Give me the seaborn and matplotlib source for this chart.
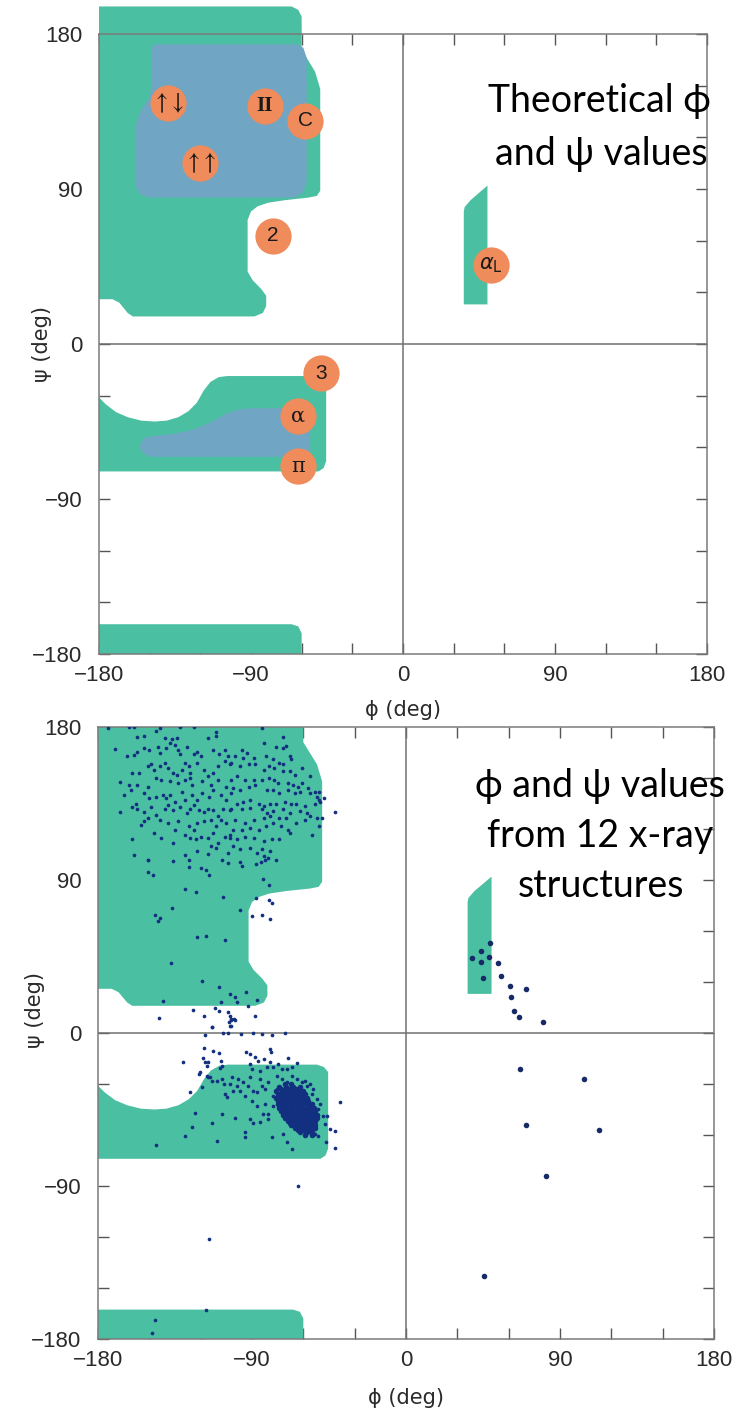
import numpy as np
import pandas as pd
import matplotlib
matplotlib.use("Agg")
import matplotlib.pyplot as plt
import seaborn as sns

# ---------------- allowed regions (phi, psi in degrees) ----------------
upper_phi = [-180, -66, -62, -60, -60, -52, -49, -49, -51, -56, -70, -80, -86, -90, -92,
             -92, -89, -84, -81, -81, -83, -88, -160, -163, -168, -172, -180]
upper_psi = [196, 196, 194, 190, 171, 158, 148, 89, 86, 85, 83.5, 82, 80, 77, 72,
             42, 37, 32, 28, 22, 18, 16, 16, 18, 24, 26, 26]

alpha_phi = [-180, -176, -170, -163, -155, -147, -140, -133, -127, -122, -118, -114, -109, -104,
             -52, -48, -45.5, -45.5, -47, -50, -180]
alpha_psi = [-31, -35, -39.5, -42.5, -44.5, -45, -44.5, -42.5, -39, -34, -27, -22, -19.2, -18.6,
             -18.6, -20, -23, -68, -72, -74, -74]

strip_phi = [-180, -180, -66, -62, -60, -60]
strip_psi = [-180, -162.7, -162.7, -164, -168, -180]

alphaL_phi = [36, 50, 50, 40, 36.5, 36]
alphaL_psi = [23, 23, 92, 83.5, 79.5, 77]

core_beta_phi = [-148, -63, -59, -57, -57, -59, -64, -150, -155, -158, -158, -155, -150, -149, -149]
core_beta_psi = [174, 174, 172, 166, 94, 88, 85, 85, 86.5, 91, 128, 136, 143, 150, 170]

core_alpha_phi = [-155, -153, -148, -135, -125, -115, -105, -97, -90, -57, -55, -55, -57, -150, -154, -156]
core_alpha_psi = [-57, -54.5, -53.5, -52, -50, -46, -40.5, -38, -37.3, -37.3, -40, -63, -65.5, -65.5, -63, -60]

# ---------------- theoretical conformations ----------------
circle_labels = ["updown", "II", "C", "upup", "2", "3", "α", "π", "αL"]
circle_phi = [-139, -82, -58, -120, -77, -48.5, -62, -62, 52]
circle_psi = [140, 138, 129.5, 105, 63, -17, -42, -71, 46]

# ---------------- observed phi/psi (x-ray structures) ----------------
beta_phi = [-174, -162, -159, -144, -132, -124, -157, -153, -146, -141, -137, -134, -116, -111, -111,
            -170, -163, -159, -157, -153, -150, -145, -144, -140, -138, -135, -133, -132, -128, -124, -122, -120, -113, -109, -106, -104,
            -160, -156, -151, -149, -147, -144, -141, -139, -136, -134, -131, -129, -127, -126, -122, -118, -116, -113, -110, -106, -103,
            -167, -162, -157, -151, -146, -143, -138, -133, -129, -126, -125, -119, -114, -110, -105, -102,
            -165, -161, -158, -153, -150, -146, -142, -140, -138, -135, -131, -129, -125, -122, -119, -115, -113, -108, -105, -102,
            -167, -160, -157, -153, -149, -146, -141, -139, -136, -132, -128, -126, -124, -121, -118, -116, -113, -110, -107, -103,
            -155, -153, -151, -144, -139, -133, -127, -124, -122, -118, -114, -111, -108, -105,
            -160, -147, -143, -135, -129, -126, -123, -120, -116, -113, -110, -106, -103,
            -159, -151, -136, -129, -122, -114, -111, -104, -127, -116]
beta_psi = [179.5, 180, 180, 179.5, 180, 180, 174, 175, 177.5, 173.5, 173, 173.5, 173.5, 174.5, 177,
            167, 163, 163.5, 165.5, 167.5, 166.5, 168.5, 165, 167.5, 170.5, 169.5, 166.5, 164, 168.5, 164, 165.5, 163, 166.5, 164, 166.5, 163,
            153, 153, 157, 158, 155, 157, 159, 156, 153, 152, 155, 159, 157, 153, 159, 155, 151, 153, 157, 160, 158,
            147.5, 146, 146, 145, 150, 149, 148, 147, 149, 150, 146, 148, 146, 149, 145, 149,
            140, 143, 135, 141, 138, 139, 140, 138, 140, 136, 142, 137, 140, 137, 141, 139, 143, 140, 137, 141,
            130, 133, 132, 130, 133, 128.5, 132, 134, 131, 133, 129.5, 132, 134, 131, 130, 132, 131, 127.5, 132, 131,
            122.5, 124.5, 126.5, 125.5, 123.5, 124.5, 121.5, 119.5, 123.5, 124.5, 125.5, 121.5, 125.5, 123.5,
            114, 117.5, 115, 119.5, 116.5, 115, 114, 115.5, 115, 117.5, 112, 115.5, 116.5,
            105, 102, 112, 105, 107, 110, 109, 106, 102, 105.5]

beta2_phi = [-84, -72, -83, -76, -72, -70, -96, -93, -100, -95, -89, -82, -78, -74, -72, -68, -67,
             -102, -97, -92, -88, -83, -80, -77, -72, -68, -65, -61, -56, -51,
             -99, -94, -89, -84, -80, -77, -75, -69, -66, -63, -61, -57, -53,
             -101, -97, -92, -88, -81, -78, -74, -69, -65, -62, -56, -52, -50, -48, -41.5,
             -99, -95, -91, -86, -83, -79.5, -76, -71, -67, -64, -59, -53, -51,
             -102, -96, -91, -84, -81.5, -78, -72, -68, -62, -58, -52, -49,
             -100, -94, -89, -83, -79.5, -74, -70, -64, -59, -56, -51,
             -101, -96, -91, -86, -82, -78, -73, -69,
             -103, -99, -94, -89, -83, -78.5, -74, -68, -55,
             -101, -97, -91, -84, -79.5, -87, -83, -80.5, -76]
beta2_psi = [179.5, 174, 170.5, 168.5, 167.5, 169, 166.5, 165, 163, 162, 162, 163, 161, 159, 158, 163, 161,
             159, 157, 158, 158, 155, 157, 156, 154, 154, 152, 156, 151, 142,
             151, 149, 149, 149, 150, 149, 147, 147, 146, 145, 147, 144, 142,
             144, 143, 145, 146, 143, 143, 141, 143, 141, 142, 141, 139, 136, 138, 130,
             135, 136, 137, 135, 133.5, 134.5, 135, 136, 134.5, 135, 133.5, 134.5, 137,
             131.5, 131.5, 132.5, 131.5, 129.5, 130.5, 131.5, 129.5, 130.5, 129.5, 126.5, 126.5,
             125.5, 123.5, 125.5, 126.5, 127.5, 126.5, 126.5, 123.5, 125.5, 127.5, 121.5,
             119.5, 119.5, 120.5, 119.5, 121.5, 123.5, 121.5, 119.5,
             115, 114, 115.5, 115, 113, 114, 114, 117.5, 116.5,
             110, 108, 109, 108, 107, 106, 104, 103, 102]

bridge_phi = [-151, -136, -107.5, -104, -97, -96, -87.5, -85, -82.6,
              -127, -120, -117, -115, -151, -148, -83.6, -80.3, -129, -123, -107, -87.7, -80, -78.5,
              -137, -97, -90, -84, -79.7, -146.5, -144, -145, -122, -116.7, -106, -137.5,
              -119, -109.3, -102.7, -100, -98.8, -93.7, -86.9, -92.3, -142, -107.9, -124.5, -111.8,
              -109.5, -104, -103, -102.5, -100.5, -103.6, -88.4, -118.2, -144.3, -102.5, -113.4,
              -117.6, -107, -104, -96.6, -89.3, -84.4, -78.6, -70.6,
              -113.6, -102.8, -102.5, -100]
bridge_psi = [101.5, 101, 101.5, 100, 100.5, 98, 99.5, 100.5, 101.5,
              97.5, 97, 96, 93, 94.5, 93, 90.5, 87, 84.7, 82.7, 80.2, 79.4, 78, 76.5,
              73.3, 72.4, 69, 69.4, 66.9, 69.4, 67.5, 65.7, 56.7, 57.2, 54.7, 41,
              30.8, 27.3, 23, 21, 18.1, 24.3, 19.6, 16.1, 18.6, 18.4, 13.5, 14.7,
              13.1, 12.2, 10.2, 8.2, 8.2, 6.7, 10.2, 10.2, 8.6, 4.4, 3.4,
              -1, 0, 0, -0.3, 0, -0.6, -1.3, 0.2,
              3.3, 4.3, 7.8, 7.8]

alpha_obs_phi = [-130.5, -118, -112.6, -109.1, -118.4, -117.5, -115.5, -116.5, -120.4, -120.8, -116.5, -115.5,
                 -108.3, -107.7, -108.7, -93.5, -91.2, -88.2, -86.3, -83, -79.5, -79.1, -79.5, -74.6, -68.8,
                 -63.9, -91.2, -90.2, -85.3, -81.4, -77.5, -72.6, -69.7, -66.8,
                 -126.2, -119.4, -114.5, -113.6, -110.6, -107.7, -106.4, -101.9, -102.8, -105.8, -104.8,
                 -101.3, -98.9, -98, -97, -95.1, -94.1, -92.1, -91.2, -89.2, -87.3, -85.3, -84.3, -82.4,
                 -80.4, -82.4, -90.2, -87.3, -83.4, -123.3, -107.7, -99.9, -91.2, -89.2, -85.3, -80.4,
                 -80.4, -125.2, -129.1, -113.6, -94.1, -94.1, -78.5, -110.2, -146.1,
                 -75.6, -72.6, -69.7, -66.8, -63.9, -61, -59, -58, -56.1, -54.1, -55.1, -60, -52.2,
                 -50.2, -51.2, -48.3, -46.3, -47.3, -51.2, -53.2, -44.4, -41.5, -41.5, -38.6, -46.7,
                 -66.8, -69.7, -71.7, -62.9, -75.6, -77.5, -73.6, -77.5,
                 -115.4, -116.7, -146.6, -148.5]
alpha_obs_psi = [-17.3, -9.1, -10.8, -11.6, -14.9, -17.3, -17.3, -19.3, -23.2, -24.2, -25.1, -26.1,
                 -16.3, -19.3, -20.8, -11, -12.4, -14.3, -16.3, -15.3, -9.4, -11, -17.3, -18.3, -14.9,
                 -17.7, -18.3, -21.2, -22.2, -20.2, -20.2, -21.2, -21.2, -20.2,
                 -34.9, -32, -26.1, -28.1, -28.1, -27.1, -30, -26.1, -30, -35.9, -37.9,
                 -33.9, -31, -27.1, -33.9, -29.1, -36.9, -31, -26.1, -33.9, -34.9, -27.1, -31, -33,
                 -29.1, -41.8, -39.8, -43.2, -47.7, -47.3, -47.7, -50.2, -50.6, -53, -52.6, -47.7,
                 -50.6, -55.5, -60.4, -53.2, -58.5, -61.4, -61.4, -63.7, -65.9,
                 -25.1, -27.1, -29.1, -25.1, -27.1, -29.1, -28.1, -31, -30, -33, -35.9, -35.9, -38.8,
                 -41.8, -44.7, -48.6, -48.6, -53.5, -60.4, -59.4, -56.5, -57.8, -67.8, -40.4, -64.3,
                 -68.2, -64.3, -59.4, -89.8, -33, -36.9, -35.9, -42.8,
                 -121, -162.7, -168.6, -176.5]

# dense alpha-helix cluster: (psi row, phi values along that row)
cluster_rows = [
    (-30, [-71, -67]),
    (-32, [-74, -70, -66, -62]),
    (-33, [-73, -68, -64]),
    (-34, [-76, -72, -69, -66, -63, -60]),
    (-36, [-75, -73, -70, -68, -65, -62, -59]),
    (-37, [-72, -69, -66, -63, -60]),
    (-38, [-76, -74, -71, -69, -67, -64, -61, -58]),
    (-40, [-75, -73, -71, -68, -66, -64, -62, -59, -57]),
    (-41, [-74, -70, -67, -63, -60, -58]),
    (-42, [-75, -73, -70, -68, -66, -64, -62, -60, -57, -55]),
    (-44, [-74, -72, -70, -68, -66, -64, -62, -60, -58, -56, -54]),
    (-45, [-73, -69, -65, -61, -58, -55]),
    (-46, [-73, -71, -69, -67, -65, -63, -61, -59, -57, -55, -53]),
    (-48, [-72, -70, -68, -66, -64, -62, -60, -58, -56, -54, -52]),
    (-49, [-71, -67, -63, -59, -55]),
    (-50, [-71, -69, -67, -65, -63, -61, -59, -57, -54, -52]),
    (-52, [-69, -67, -65, -62, -60, -58, -56, -53]),
    (-53, [-68, -64, -60, -57, -54]),
    (-54, [-67, -64, -62, -59, -56, -53]),
    (-56, [-65, -62, -59, -56, -53]),
    (-57, [-63, -60, -57]),
    (-58, [-62, -58, -55]),
    (-60, [-59, -55]),
]

# left-handed / positive-phi residues
right_phi = [49, 43.6, 38.8, 48.5, 43.8, 54, 45.2, 55.7, 60.8, 70.1, 61.4, 62.9, 65.9, 80.1,
             66.6, 103.8, 69.9, 112.6, 81.9, 45.4]
right_psi = [52.9, 48, 44.1, 44.9, 41.6, 41, 32.5, 33.3, 27.8, 25.9, 21, 13.1, 9.4, 6.3,
             -21, -26.9, -54.3, -56.9, -84, -142.7]

major_ticks = [-180, -90, 0, 90, 180]
minor_ticks = [-150, -120, -60, -30, 30, 60, 120, 150]

# ---------------- style ----------------
sns.set_theme(style="white")
plt.rcParams["font.family"] = ["Liberation Sans", "DejaVu Sans"]
plt.rcParams["axes.unicode_minus"] = True

GREEN = "#4bbfa2"
BLUE = "#70a5c3"
ORANGE = "#f08b5b"
NAVY = "#12307f"
NAVY2 = "#152a66"
GRID = "#707070"

fig = plt.figure(figsize=(7.44, 14.09), dpi=100, facecolor="white")
ax1 = fig.add_axes([99 / 744, 1 - 654 / 1409, 608 / 744, 620 / 1409])
ax2 = fig.add_axes([98 / 744, 1 - 1339 / 1409, 616 / 744, 612 / 1409])


def draw_regions(ax, clip):
    ax.fill(upper_phi, upper_psi, color=GREEN, lw=0, zorder=1, clip_on=clip)
    ax.fill(alpha_phi, alpha_psi, color=GREEN, lw=0, zorder=1)
    ax.fill(strip_phi, strip_psi, color=GREEN, lw=0, zorder=1)
    ax.fill(alphaL_phi, alphaL_psi, color=GREEN, lw=0, zorder=1)


def style_axes(ax, ylabel_x, ylabel_y, xlabel_y):
    ax.set_xlim(-180, 180)
    ax.set_ylim(-180, 180)
    ax.axhline(0, color=GRID, lw=1.1, zorder=1.8)
    ax.axvline(0, color=GRID, lw=1.1, zorder=1.8)
    ax.set_xticks(major_ticks)
    ax.set_yticks(major_ticks)
    ax.set_xticks(minor_ticks, minor=True)
    ax.set_yticks(minor_ticks, minor=True)
    ax.tick_params(which="both", direction="in", length=8, width=1.0, color="#555555",
                   top=True, right=True, bottom=True, left=True, labelsize=16,
                   labelcolor="#2a2a2a")
    ax.tick_params(axis="x", which="major", pad=8)
    ax.tick_params(axis="y", which="major", pad=12)
    for sp in ax.spines.values():
        sp.set_color("#7a7a7a")
        sp.set_linewidth(1.1)
    ax.set_xlabel("ϕ (deg)", fontsize=15, color="#2a2a2a",
                  family=["DejaVu Sans"])
    ax.set_ylabel("ψ (deg)", fontsize=15, color="#2a2a2a",
                  family=["DejaVu Sans"])
    ax.xaxis.set_label_coords(0.5, xlabel_y)
    ax.yaxis.set_label_coords(ylabel_x, ylabel_y)
    ax.set_facecolor("white")


# ---------------- top panel: theoretical ----------------
draw_regions(ax1, False)
ax1.fill(core_beta_phi, core_beta_psi, color=BLUE, lw=0, zorder=1.2)
ax1.fill(core_alpha_phi, core_alpha_psi, color=BLUE, lw=0, zorder=1.2)
sns.scatterplot(x=circle_phi, y=circle_psi, s=680, color=ORANGE, linewidth=0,
                zorder=4, ax=ax1, legend=False)
for lab, px, py in zip(circle_labels, circle_phi, circle_psi):
    if lab == "updown":
        ax1.text(px, py, r"$\uparrow\!\downarrow$", ha="center", va="center", fontsize=17,
                 math_fontfamily="stix", color="#1a1a1a", zorder=5)
    elif lab == "upup":
        ax1.text(px, py, r"$\uparrow\!\uparrow$", ha="center", va="center", fontsize=17,
                 math_fontfamily="stix", color="#1a1a1a", zorder=5)
    elif lab == "II":
        ax1.text(px, py, "II", ha="center", va="center", fontsize=15, weight="bold",
                 family=["Liberation Serif"], color="#1a1a1a", zorder=5)
    elif lab == "αL":
        ax1.text(px, py, r"$\alpha_{\mathrm{L}}$", ha="center", va="center", fontsize=15,
                 color="#1a1a1a", zorder=5)
    elif lab in ("α", "π"):
        ax1.text(px, py, lab, ha="center", va="center", fontsize=15,
                 family=["DejaVu Serif"], color="#1a1a1a", zorder=5)
    else:
        ax1.text(px, py, lab, ha="center", va="center", fontsize=15,
                 family=["Liberation Sans"], color="#1a1a1a", zorder=5)
style_axes(ax1, -0.077, 0.5, -0.074)

# ---------------- bottom panel: observed ----------------
draw_regions(ax2, True)
left_phi = beta_phi + beta2_phi + bridge_phi + alpha_obs_phi
left_psi = beta_psi + beta2_psi + bridge_psi + alpha_obs_psi
cl_phi, cl_psi = [], []
for row_psi, row_phis in cluster_rows:
    for p in row_phis:
        cl_phi.append(p)
        cl_psi.append(row_psi)
obs = pd.DataFrame({"phi": left_phi, "psi": left_psi})
core = pd.DataFrame({"phi": cl_phi, "psi": cl_psi})
sns.scatterplot(data=obs, x="phi", y="psi", s=7, color=NAVY, linewidth=0,
                zorder=3, ax=ax2, legend=False)
sns.scatterplot(data=core, x="phi", y="psi", s=16, color=NAVY, linewidth=0,
                zorder=3, ax=ax2, legend=False)
sns.scatterplot(x=right_phi, y=right_psi, s=16, color=NAVY2, linewidth=0,
                zorder=3, ax=ax2, legend=False)
style_axes(ax2, -0.086, 0.538, -0.080)

# ---------------- annotations ----------------
TXT_FAM = ["Lato", "DejaVu Sans"]
fig.text(599 / 744, 1 - 112 / 1409, "Theoretical ϕ", ha="center", va="baseline",
         fontsize=27, family=TXT_FAM, color="black", zorder=10)
fig.text(601 / 744, 1 - 165 / 1409, "and ψ values", ha="center", va="baseline",
         fontsize=27, family=TXT_FAM, color="black", zorder=10)
fig.text(600 / 744, 1 - 797 / 1409, "ϕ and ψ values", ha="center", va="baseline",
         fontsize=27, family=TXT_FAM, color="black", zorder=10)
fig.text(600 / 744, 1 - 847 / 1409, "from 12 x-ray", ha="center", va="baseline",
         fontsize=27, family=TXT_FAM, color="black", zorder=10)
fig.text(601 / 744, 1 - 897 / 1409, "structures", ha="center", va="baseline",
         fontsize=27, family=TXT_FAM, color="black", zorder=10)

fig.savefig("out.png", dpi=100, facecolor="white")
